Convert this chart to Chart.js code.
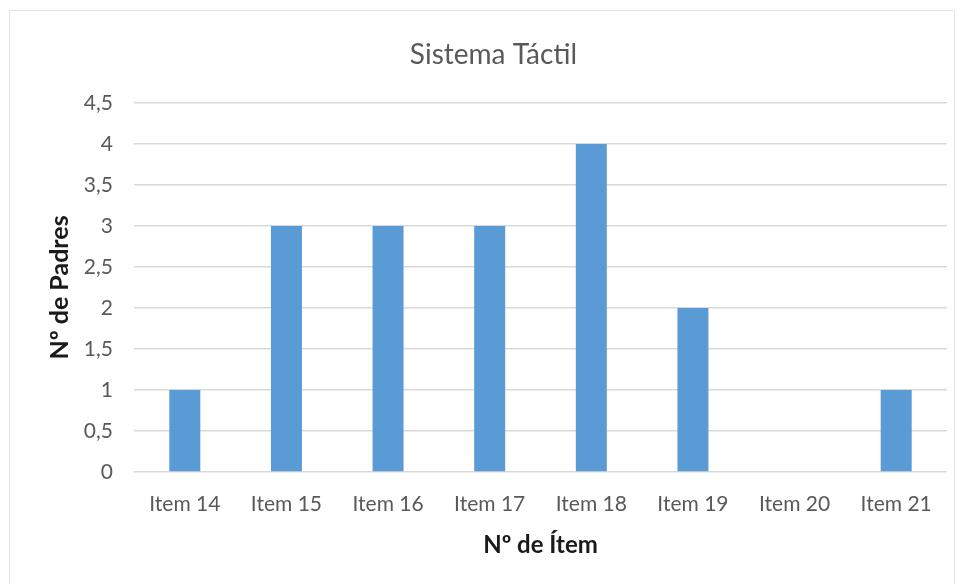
<!DOCTYPE html>
<html>
<head>
<meta charset="utf-8">
<script src="https://cdn.jsdelivr.net/npm/chart.js@4/dist/chart.umd.min.js"></script>
<style>
  html, body { margin: 0; padding: 0; background: #fff; }
  #frame { position: absolute; left: 9px; top: 10px; width: 946px; height: 590px; border: 1px solid #e3e3e3; box-sizing: border-box; }
  #wrap { position: absolute; left: 0; top: 0; width: 965px; height: 584px; }
</style>
</head>
<body>
<div id="frame"></div>
<div id="wrap"><canvas id="chartTactil" width="965" height="584"></canvas></div>
<script>
// datos del gráfico
const categorias = ['Item 14', 'Item 15', 'Item 16', 'Item 17', 'Item 18', 'Item 19', 'Item 20', 'Item 21'];
const padres = [1, 3, 3, 3, 4, 2, 0, 1];
const tituloGrafico = 'Sistema Táctil';
const tituloX = 'Nº de Ítem';
const tituloY = 'Nº de Padres';

const FONT = 'Lato, "Open Sans", sans-serif';

function coma(v) { return String(v).replace('.', ','); }

const ctx = document.getElementById('chartTactil').getContext('2d');
new Chart(ctx, {
  type: 'bar',
  data: {
    labels: categorias,
    datasets: [{ label: tituloY, data: padres, backgroundColor: '#5b9bd5', borderWidth: 0,
                 categoryPercentage: 1, barPercentage: 0.305 }]
  },
  options: {
    responsive: false,
    animation: false,
    layout: { padding: { left: 40, right: 18, top: 0, bottom: 0 } },
    plugins: {
      legend: { display: false },
      tooltip: { enabled: false },
      title: {
        display: true, text: tituloGrafico, color: '#595959',
        font: { family: FONT, size: 28, weight: 'normal', lineHeight: 1.2 },
        padding: { top: 38, bottom: 31.4 }
      }
    },
    scales: {
      x: {
        grid: { display: false },
        border: { display: false },
        ticks: { color: '#595959', font: { family: FONT, size: 21 }, padding: 12, maxRotation: 0 },
        title: { display: true, text: tituloX, color: '#1a1a1a',
                 font: { family: FONT, size: 24, weight: 'bold', lineHeight: 1.2 },
                 padding: { top: 0, bottom: 24.6 } },
        afterFit: (s) => { s.height = 112; }
      },
      y: {
        min: 0, max: 4.5,
        grid: { color: '#d9d9d9', lineWidth: 1.5, drawTicks: false },
        border: { display: false },
        ticks: { stepSize: 0.5, color: '#595959', font: { family: FONT, size: 21 }, padding: 21,
                 callback: (v) => coma(v) },
        title: { display: true, text: tituloY, color: '#1a1a1a',
                 font: { family: FONT, size: 25, weight: 'bold', lineHeight: 1.2 },
                 padding: { top: 5, bottom: 0 } },
        afterFit: (s) => { s.width = 94; }
      }
    }
  }
});
</script>
</body>
</html>
